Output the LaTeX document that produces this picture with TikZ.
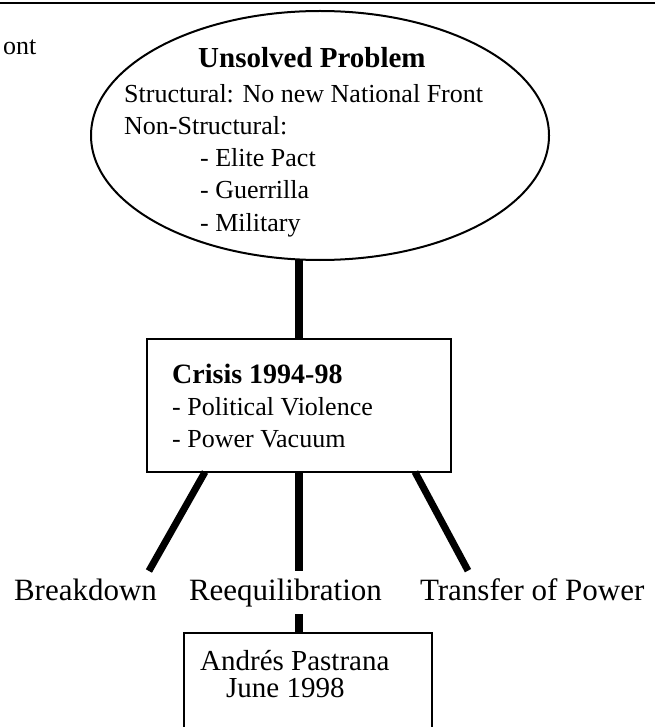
\documentclass[tikz,border=0pt]{standalone}
\usepackage{fontspec}
\setmainfont{Liberation Serif}
\usetikzlibrary{shapes.geometric}

\begin{document}
\begin{tikzpicture}[x=1pt,y=-1pt,
  txt/.style={anchor=base west,inner sep=0pt,font=\fontsize{26}{30}\selectfont},
  hd/.style={anchor=base west,inner sep=0pt,font=\fontsize{28}{32}\selectfont\bfseries},
  lbl/.style={anchor=base west,inner sep=0pt,outer xsep=0pt,outer ysep=7.5pt,font=\fontsize{31}{35}\selectfont},
  frame/.style={draw,line width=2.5pt,inner sep=0pt,outer sep=0pt},
  bar/.style={line width=8pt}]
  \useasboundingbox (0,0) rectangle (655,727);
  \clip (0,0) rectangle (655,727);
  \draw[line width=1.5pt] (0,3) -- (655,3);
  \node[txt] (ont) at (3,55) {ont};
  % the problem
  \node[draw,ellipse,line width=2pt,inner sep=0pt,outer sep=0pt,minimum width=458pt,minimum height=249pt] (prob) at (320,135.5) {};
  \node[hd,font=\fontsize{29}{33}\selectfont\bfseries] (probtitle) at (198,68) {Unsolved Problem};
  \node[txt] (struct) at (124,103) {Structural: No new National Front};
  \node[txt] (nonstruct) at (124,135) {Non-Structural:};
  \node[txt] (pact) at (200,167) {- Elite Pact};
  \node[txt] (guer) at (200,199) {- Guerrilla};
  \node[txt] (mil) at (200,231) {- Military};
  % the crisis
  \node[frame,minimum width=304pt,minimum height=133pt] (crisis) at (299,405.5) {};
  \node[hd] (crisistitle) at (172,383) {Crisis 1994-98};
  \node[txt] (viol) at (172,415) {- Political Violence};
  \node[txt] (vac) at (172,447) {- Power Vacuum};
  \draw[bar] (prob.south -| crisis.north) -- (crisis.north);
  % the three outcomes
  \node[lbl] (brk) at (14,600) {Breakdown};
  \node[lbl] (reeq) at (189,600) {Reequilibration};
  \node[lbl] (tfr) at (420,600) {Transfer of Power};
  \draw[line width=7pt] ([xshift=58pt]crisis.south west) -- ([xshift=-8pt]brk.north east);
  \draw[bar] (crisis.south) -- (crisis.south |- reeq.north);
  \draw[line width=7pt] ([xshift=-36pt]crisis.south east) -- ([xshift=48pt]tfr.north west);
  % Pastrana
  \node[frame,minimum width=248pt,minimum height=130pt] (past) at (308,698) {};
  \node[txt,font=\fontsize{29}{33}\selectfont] (pastname) at (200,670) {Andrés Pastrana};
  \node[txt,font=\fontsize{29}{33}\selectfont] (pastdate) at (226,697) {June 1998};
  \draw[bar] (crisis.south |- reeq.south) -- (crisis.south |- past.north);
\end{tikzpicture}
\end{document}
